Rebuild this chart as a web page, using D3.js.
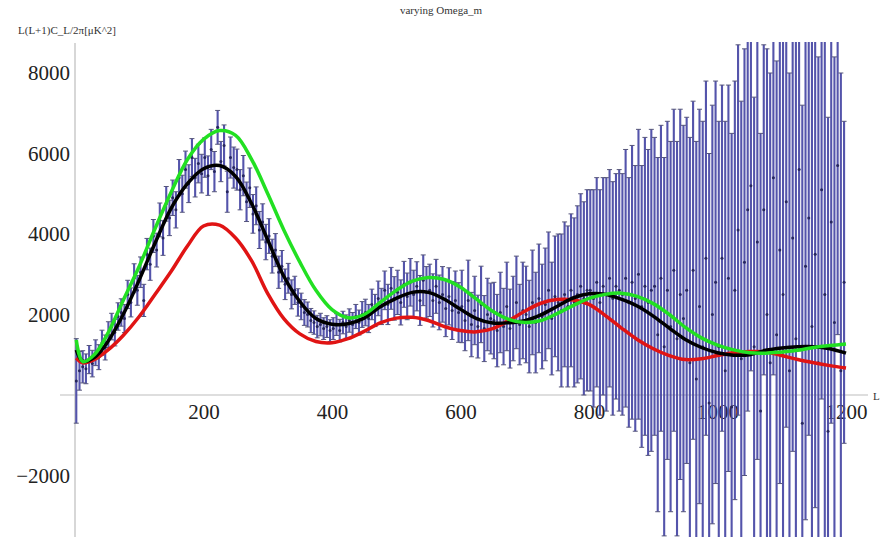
<!DOCTYPE html>
<meta charset="utf-8">
<script src="https://d3js.org/d3.v7.min.js"></script>
<style>
  body { margin: 0; background: #fff; }
</style>
<div id="chart"></div>
<script>
// multipole grid of the binned data points (every 5th L)
var ell = d3.range(2, 1200, 5);

// L(L+1)C_L/2pi of the data (10 points per row = 50 in L)
var cl = [
  350, 600, 700, 650, 880, 780, 1050, 940, 1300, 1180,
  1500, 1700, 1550, 1950, 2050, 1900, 2500, 2300, 2900, 2600,
  3050, 2350, 3500, 3250, 3950, 3600, 4350, 3900, 4750, 4400,
  4900, 4600, 5400, 5000, 5600, 5250, 5900, 5400, 5750, 5500,
  5900, 5450, 6100, 5550, 6650, 5800, 6200, 5050, 5900, 5650,
  5600, 5100, 5450, 4800, 5150, 4500, 4700, 4100, 4300, 3800,
  3950, 3450, 3600, 3050, 3200, 2750, 2900, 2500, 2600, 2300,
  2200, 2050, 2000, 1850, 1800, 1700, 1750, 1650, 1700, 1600,
  1650, 1750, 1600, 1800, 1700, 1850, 1750, 1950, 1800, 2000,
  2050, 1900, 2250, 2100, 2400, 2200, 2600, 2250, 2650, 2400,
  2550, 2300, 2750, 2450, 2800, 2500, 2700, 2350, 2850, 2550,
  2600, 2350, 2700, 2300, 2500, 2150, 2450, 2100, 2350, 2050,
  2200, 1850, 2350, 1750, 2100, 1700, 2250, 1650, 2000, 1900,
  1850, 1600, 2050, 1700, 2200, 1650, 1900, 2300, 1750, 2100,
  2000, 1700, 2300, 1800, 2400, 1950, 2250, 2600, 1900, 2450,
  2300, 2100, 2500, 2200, 2600, 2300, 2500, 2700, 2400, 2600,
  2600, 2400, 2800, 2300, 2700, 2500, 2900, 2400, 2700, 2600,
  2500, 2900, 2300, 2800, 2400, 3000, 2200, 2700, 2300, 2600,
  2700, 1500, 2900, 1200, 2600, 1700, 3100, 1400, 2500, 1900,
  2600, 800, 3100, 400, 2200, 1200, 3400, -200, 2000, 2800,
  1200, 3400, 600, 2900, -300, 2600, 4100, 900, 3300, 4600,
  5200, 1200, 3800, -400, 4600, 2000, 800, 5400, 1500, 3600,
  2500, 4800, 600, 3900, 1400, 5600, -700, 3200, 4400, 1700,
  3500, 800, 5100, 2500, -900, 4300, 1800, 5700, 600, 2800
];

// half length of each error bar
var err = [
  1050, 480, 400, 370, 350, 330, 320, 310, 310, 310,
  320, 330, 330, 340, 340, 350, 350, 360, 360, 370,
  380, 400, 390, 400, 410, 420, 420, 430, 430, 440,
  440, 450, 450, 460, 460, 470, 470, 480, 480, 480,
  490, 490, 500, 500, 420, 500, 510, 510, 510, 510,
  510, 500, 500, 490, 490, 480, 470, 460, 450, 440,
  430, 420, 410, 400, 390, 380, 370, 360, 350, 340,
  330, 320, 310, 300, 290, 280, 280, 270, 270, 270,
  270, 270, 280, 280, 290, 290, 300, 300, 310, 320,
  330, 350, 380, 400, 430, 450, 480, 500, 520, 540,
  550, 560, 570, 580, 590, 600, 610, 620, 630, 640,
  650, 660, 670, 680, 690, 700, 710, 720, 730, 740,
  900, 750, 1000, 800, 850, 780, 950, 820, 900, 880,
  950, 900, 1000, 950, 1100, 980, 1050, 1150, 1000, 1200,
  1200, 1150, 1300, 1250, 1350, 1300, 1400, 1450, 1400, 1500,
  1700, 1900, 1800, 2000, 1900, 2100, 2200, 2300, 2400, 2500,
  2500, 2700, 2600, 2800, 2700, 2900, 2700, 2900, 2800, 3000,
  3000, 3200, 3100, 3400, 3300, 3600, 3500, 3700, 3800, 4000,
  3700, 4400, 3800, 4700, 4200, 4600, 4000, 4900, 4600, 4800,
  4300, 5600, 4200, 5900, 4900, 5600, 4400, 6200, 5200, 5000,
  5600, 4300, 6200, 4800, 6800, 5200, 4600, 6400, 5300, 5000,
  4600, 6200, 5400, 6900, 4100, 6600, 7200, 4900, 6800, 5800,
  7200, 5600, 7400, 5300, 7500, 4500, 7900, 6300, 5400, 7100,
  6300, 7600, 5200, 7500, 7800, 5000, 6600, 4200, 7400, 4000
];

// theory curves for three values of Omega_m, sampled at these L
var curveEll = [2, 12, 30, 50, 75, 100, 125, 150, 175, 200, 225, 250, 275, 300, 325,
  350, 375, 400, 425, 450, 475, 500, 525, 550, 575, 600, 625, 650, 675, 700, 725,
  750, 775, 800, 825, 850, 875, 900, 925, 950, 975, 1000, 1025, 1050, 1075, 1100,
  1125, 1150, 1175, 1200];
var blackCurve = [1120, 840, 930, 1300, 2000, 2860, 3790, 4650, 5250, 5620, 5700, 5430,
  4750, 3850, 2950, 2320, 1900, 1760, 1770, 1910, 2190, 2400, 2550, 2550, 2380, 2130,
  1900, 1790, 1795, 1845, 1990, 2200, 2410, 2515, 2505, 2380, 2210, 1960, 1660, 1380,
  1180, 1050, 990, 1000, 1110, 1170, 1200, 1200, 1150, 1040];
var greenCurve = [1370, 830, 1000, 1500, 2350, 3200, 4150, 5050, 5850, 6350, 6570, 6450,
  5850, 5000, 4100, 3300, 2600, 2120, 1920, 2000, 2300, 2600, 2830, 2920, 2870, 2680,
  2380, 2080, 1880, 1800, 1850, 2020, 2220, 2400, 2500, 2530, 2450, 2270, 2000, 1680,
  1420, 1240, 1120, 1050, 1040, 1070, 1110, 1180, 1230, 1270];
var redCurve = [920, 800, 880, 1100, 1480, 1950, 2510, 3080, 3700, 4200, 4220, 3900,
  3330, 2520, 1900, 1520, 1330, 1300, 1400, 1580, 1790, 1910, 1930, 1850, 1700, 1600,
  1570, 1650, 1850, 2080, 2280, 2370, 2360, 2250, 1980, 1670, 1380, 1150, 980, 880,
  900, 980, 1050, 1080, 1070, 980, 880, 800, 730, 670];

var xTicks = [200, 400, 600, 800, 1000, 1200];
var yTicks = [-2000, 2000, 4000, 6000, 8000];

var width = 882, height = 537;

var svg = d3.select("#chart")
  .append("svg")
    .attr("width", width)
    .attr("height", height)
    .style("font-family", "'Liberation Serif', 'DejaVu Serif', serif");

var x = d3.scaleLinear().domain([0, 1200]).range([75, 846]);
var y = d3.scaleLinear().domain([0, 8000]).range([395, 73]);

svg.append("clipPath")
    .attr("id", "plotclip")
  .append("rect")
    .attr("x", 0).attr("y", 42)
    .attr("width", width).attr("height", height - 42);

// axes lines, Mathematica style crossing at the origin
svg.append("line")
    .attr("x1", 60).attr("x2", 868)
    .attr("y1", y(0)).attr("y2", y(0))
    .attr("stroke", "#bdbdbd").attr("stroke-width", 1.2);
svg.append("line")
    .attr("x1", x(0)).attr("x2", x(0))
    .attr("y1", 43).attr("y2", height)
    .attr("stroke", "#bdbdbd").attr("stroke-width", 1.2);

// tick labels
var fmt = d3.format("d");
svg.append("g")
    .attr("transform", "translate(0," + y(0) + ")")
    .call(d3.axisBottom(x).tickValues(xTicks).tickFormat(fmt).tickSize(0).tickPadding(9));
svg.append("g")
    .attr("transform", "translate(" + x(0) + ",0)")
    .call(d3.axisLeft(y).tickValues(yTicks).tickFormat(fmt).tickSize(0).tickPadding(5));
svg.selectAll(".domain").remove();
svg.selectAll(".tick text")
    .attr("font-family", "'Liberation Serif', serif")
    .attr("font-size", 21)
    .attr("fill", "#222");

// data with error bars
var pts = ell.map(function(l, i) { return {l: l, v: cl[i], e: err[i]}; });
var bars = svg.append("g").attr("clip-path", "url(#plotclip)");

bars.selectAll("line.bar")
  .data(pts)
  .enter().append("line")
    .attr("class", "bar")
    .attr("x1", function(d) { return x(d.l); })
    .attr("x2", function(d) { return x(d.l); })
    .attr("y1", function(d) { return y(d.v + d.e); })
    .attr("y2", function(d) { return y(d.v - d.e); })
    .attr("stroke", "#4646a4")
    .attr("stroke-width", 2.1)
    .attr("opacity", 0.92);

bars.selectAll("path.cap")
  .data(pts)
  .enter().append("path")
    .attr("class", "cap")
    .attr("d", function(d) {
      var cx = x(d.l);
      return "M" + (cx - 2.5) + "," + y(d.v + d.e) + "H" + (cx + 2.5) +
             "M" + (cx - 2.5) + "," + y(d.v - d.e) + "H" + (cx + 2.5);
    })
    .attr("stroke", "#55557a")
    .attr("stroke-width", 1);

bars.selectAll("circle")
  .data(pts)
  .enter().append("circle")
    .attr("cx", function(d) { return x(d.l); })
    .attr("cy", function(d) { return y(d.v); })
    .attr("r", 1.5)
    .attr("fill", "#26265e");

// theory curves
var line = d3.line()
    .x(function(d) { return x(d[0]); })
    .y(function(d) { return y(d[1]); })
    .curve(d3.curveCatmullRom.alpha(0.5));

[[redCurve, "#e01414"], [blackCurve, "#000000"], [greenCurve, "#22e022"]].forEach(function(c) {
  svg.append("path")
      .datum(curveEll.map(function(l, i) { return [l, c[0][i]]; }))
      .attr("d", line)
      .attr("fill", "none")
      .attr("stroke", c[1])
      .attr("stroke-width", 3.5);
});

// titles
svg.append("text")
    .attr("x", 441).attr("y", 14)
    .attr("text-anchor", "middle")
    .attr("font-size", 11)
    .attr("fill", "#333")
    .text("varying Omega_m");
svg.append("text")
    .attr("x", 18).attr("y", 34)
    .attr("font-size", 11)
    .attr("fill", "#333")
    .text("L(L+1)C_L/2\u03c0[\u03bcK^2]");
svg.append("text")
    .attr("x", 873).attr("y", 400)
    .attr("font-size", 11)
    .attr("fill", "#333")
    .text("L");
</script>
